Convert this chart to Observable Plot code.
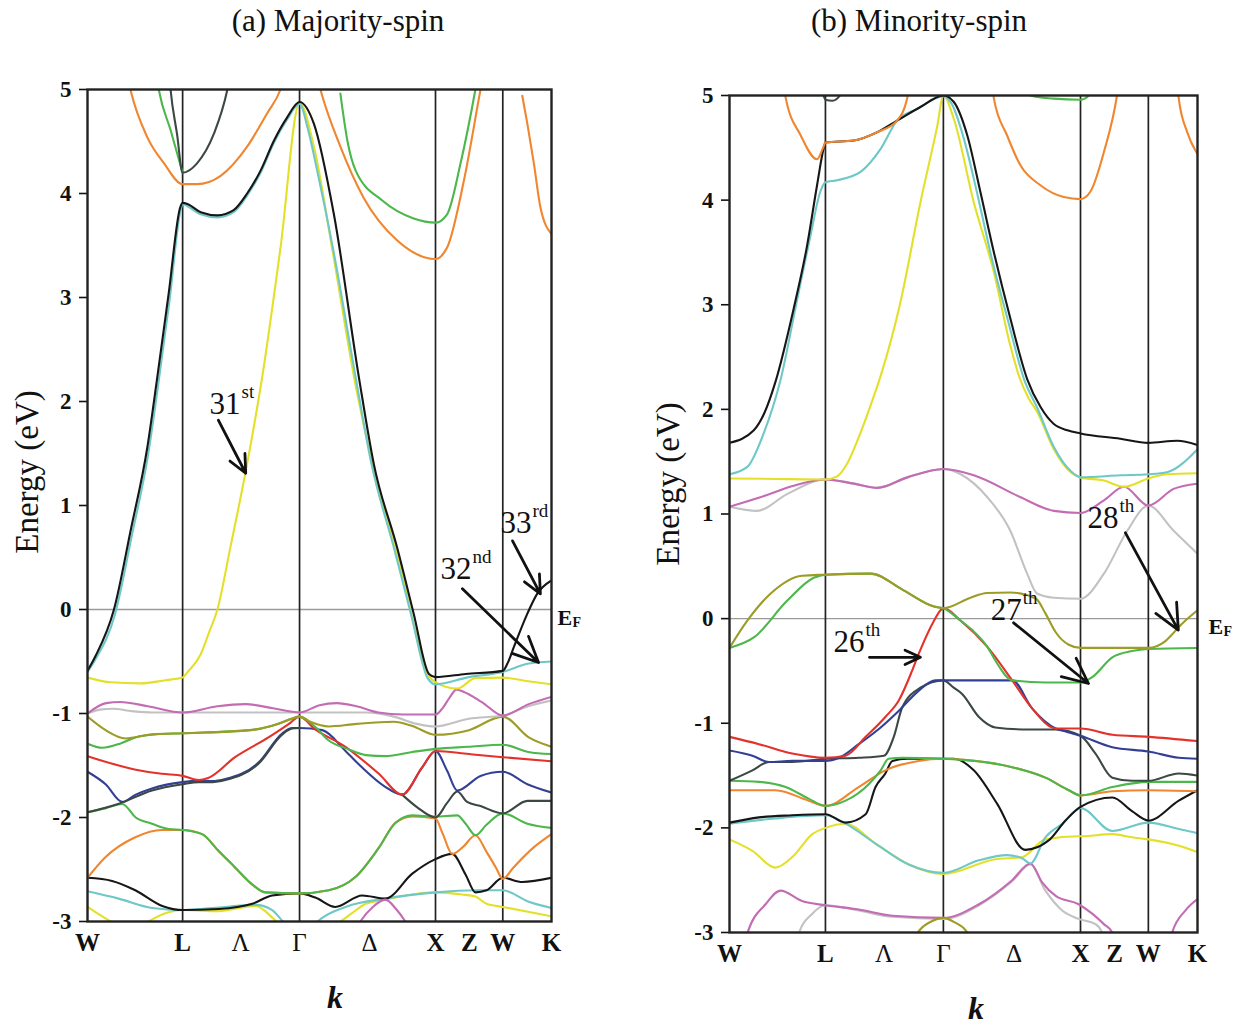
<!DOCTYPE html>
<html>
<head>
<meta charset="utf-8">
<script src="https://cdn.jsdelivr.net/npm/d3@7"></script>
<script src="https://cdn.jsdelivr.net/npm/@observablehq/plot@0.6"></script>
<style>
  body { margin: 0; background: #fff; }
  #wrap { position: relative; width: 1249px; height: 1028px; background: #fff; overflow: hidden; font-family: "Liberation Serif", "Times New Roman", serif; color: #111; }
  .abs { position: absolute; text-align: center; white-space: nowrap; pointer-events: none; }
  .title { font-size: 31px; line-height: 36px; width: 400px; top: 3px; }
  .ylab { font-size: 33px; line-height: 40px; width: 240px; height: 40px; transform: rotate(-90deg); transform-origin: center center; }
  .klab { font-size: 32px; line-height: 40px; width: 60px; font-weight: bold; font-style: italic; }
</style>
</head>
<body>
<div id="wrap">
  <div id="left" style="position:absolute;left:0;top:0"></div>
  <div id="right" style="position:absolute;left:620px;top:0"></div>
  <div class="abs title" style="left:138px">(a) Majority-spin</div>
  <div class="abs title" style="left:719px">(b) Minority-spin</div>
  <div class="abs ylab" style="left:-93px;top:452px">Energy (eV)</div>
  <div class="abs ylab" style="left:548px;top:464px">Energy (eV)</div>
  <div class="abs klab" style="left:305px;top:977px">k</div>
  <div class="abs klab" style="left:946px;top:988px">k</div>
</div>
<script>
// ---------- axes ----------
const kTicks = [0, 0.205, 0.33, 0.457, 0.608, 0.75, 0.823, 0.895, 1];
const kLabels = ["W", "L", "Λ", "Γ", "Δ", "X", "Z", "W", "K"];
const eTicks = [-3, -2, -1, 0, 1, 2, 3, 4, 5];
const symK = [0.205, 0.457, 0.75, 0.895];

const colors = {
  black: "#161616", dgrey: "#3c4844", cyan: "#6ec8c8", yellow: "#e4e02a",
  magenta: "#c36bb3", grey: "#c2c2c2", olive: "#9d9c26", green: "#4cb74a",
  red: "#e4322b", blue: "#333f95", orange: "#f0862f"
};

// ---------- (a) majority-spin bands : [k, E(eV)] ----------
const maj_orangeL = [[0.085,5.15],[0.093,4.99],[0.129,4.54],[0.165,4.29],[0.205,4.09],[0.236,4.09],[0.287,4.17],[0.344,4.45],[0.387,4.77],[0.416,5.0],[0.425,5.12]];
const maj_greenL = [[0.148,5.15],[0.154,4.99],[0.179,4.61],[0.205,4.20]];
const maj_dgreyL = [[0.176,5.15],[0.179,5.0],[0.193,4.57],[0.205,4.20],[0.236,4.29],[0.272,4.57],[0.301,4.99],[0.306,5.1]];
const maj_orangeX = [[0.495,5.12],[0.502,5.0],[0.545,4.45],[0.595,3.96],[0.667,3.55],[0.75,3.37],[0.775,3.48],[0.811,4.12],[0.847,5.0],[0.852,5.12]];
const maj_greenX = [[0.545,4.96],[0.56,4.51],[0.578,4.22],[0.636,3.93],[0.703,3.76],[0.75,3.72],[0.775,3.80],[0.804,4.29],[0.836,5.0],[0.84,5.1]];
const maj_orangeK = [[0.937,4.94],[0.948,4.67],[0.962,4.29],[0.976,3.87],[1,3.61]];

const maj_yellowLow = [[0,-2.86],[0.024,-2.93],[0.05,-3.0],[0.08,-3.08],[0.11,-3.07],[0.132,-3.0],[0.175,-2.91],[0.205,-2.89],[0.283,-2.90],[0.341,-2.86],[0.362,-2.85],[0.40,-2.97],[0.43,-3.10],[0.457,-3.15],[0.50,-3.1],[0.545,-3.0],[0.567,-2.93],[0.60,-2.83],[0.642,-2.79],[0.70,-2.74],[0.75,-2.72],[0.807,-2.74],[0.836,-2.76],[0.86,-2.83],[0.895,-2.86],[1,-2.95]];
const maj_cyanLow = [[0,-2.71],[0.067,-2.78],[0.139,-2.87],[0.205,-2.89],[0.27,-2.87],[0.362,-2.84],[0.398,-2.89],[0.419,-2.99],[0.44,-3.10],[0.457,-3.16],[0.475,-3.10],[0.496,-3.0],[0.556,-2.86],[0.642,-2.78],[0.75,-2.72],[0.836,-2.70],[0.895,-2.70],[0.951,-2.81],[1,-2.87]];
const maj_blackLow = [[0,-2.58],[0.053,-2.61],[0.103,-2.70],[0.161,-2.85],[0.205,-2.89],[0.283,-2.88],[0.355,-2.83],[0.398,-2.75],[0.457,-2.73],[0.491,-2.77],[0.534,-2.86],[0.592,-2.75],[0.642,-2.78],[0.70,-2.54],[0.75,-2.40],[0.786,-2.35],[0.815,-2.55],[0.836,-2.72],[0.86,-2.70],[0.895,-2.58],[0.937,-2.62],[1,-2.58]];
const maj_magentaLow = [[0.565,-3.2],[0.588,-3.0],[0.615,-2.86],[0.642,-2.79],[0.665,-2.88],[0.685,-3.0],[0.71,-3.2]];
const maj_orangeLow = [[0,-2.58],[0.039,-2.38],[0.103,-2.19],[0.16,-2.12],[0.205,-2.12],[0.247,-2.16],[0.282,-2.32],[0.318,-2.48],[0.354,-2.64],[0.383,-2.72],[0.457,-2.73],[0.52,-2.70],[0.578,-2.57],[0.628,-2.29],[0.664,-2.05],[0.70,-1.99],[0.75,-2.01],[0.765,-2.15],[0.786,-2.35],[0.81,-2.28],[0.836,-2.17],[0.86,-2.33],[0.88,-2.48],[0.895,-2.59],[0.918,-2.48],[0.961,-2.29],[1,-2.16]];
const maj_greenLow = [[0,-1.95],[0.04,-1.91],[0.075,-1.87],[0.104,-2.0],[0.139,-2.06],[0.175,-2.11],[0.205,-2.12],[0.247,-2.16],[0.282,-2.32],[0.318,-2.48],[0.354,-2.64],[0.383,-2.72],[0.457,-2.73],[0.52,-2.70],[0.578,-2.57],[0.628,-2.29],[0.664,-2.05],[0.70,-1.98],[0.75,-1.99],[0.797,-1.98],[0.815,-2.06],[0.836,-2.17],[0.86,-2.07],[0.895,-1.96],[0.948,-2.06],[1,-2.10]];
const maj_blue = [[0,-1.56],[0.039,-1.68],[0.075,-1.85],[0.104,-1.78],[0.139,-1.72],[0.205,-1.66],[0.24,-1.645],[0.269,-1.65],[0.297,-1.63],[0.369,-1.47],[0.42,-1.19],[0.441,-1.14],[0.457,-1.14],[0.506,-1.16],[0.556,-1.36],[0.592,-1.52],[0.64,-1.70],[0.678,-1.78],[0.721,-1.52],[0.75,-1.36],[0.775,-1.55],[0.797,-1.74],[0.847,-1.60],[0.895,-1.56],[0.948,-1.68],[1,-1.76]];
const maj_dgrey1 = [[0,-1.95],[0.066,-1.87],[0.139,-1.74],[0.205,-1.68],[0.24,-1.66],[0.269,-1.66],[0.297,-1.64],[0.369,-1.48],[0.42,-1.20],[0.441,-1.145],[0.457,-1.14]];
const maj_dgrey2 = [[0.678,-1.78],[0.71,-1.90],[0.75,-2.0],[0.775,-1.86],[0.797,-1.75],[0.818,-1.85],[0.847,-1.89],[0.895,-1.96],[0.948,-1.84],[1,-1.84]];
const maj_red = [[0,-1.41],[0.104,-1.54],[0.16,-1.58],[0.205,-1.60],[0.24,-1.64],[0.26,-1.62],[0.318,-1.42],[0.39,-1.23],[0.434,-1.10],[0.457,-1.03],[0.49,-1.15],[0.556,-1.32],[0.628,-1.58],[0.678,-1.78],[0.721,-1.52],[0.75,-1.36],[0.822,-1.39],[0.895,-1.42],[1,-1.46]];
const maj_greenUp = [[0,-1.29],[0.032,-1.33],[0.07,-1.29],[0.103,-1.23],[0.15,-1.20],[0.205,-1.19],[0.35,-1.16],[0.41,-1.10],[0.44,-1.05],[0.457,-1.03],[0.491,-1.13],[0.52,-1.26],[0.56,-1.34],[0.60,-1.40],[0.642,-1.41],[0.70,-1.37],[0.75,-1.34],[0.82,-1.32],[0.895,-1.30],[0.95,-1.37],[1,-1.39]];
const maj_olive = [[0,-1.03],[0.039,-1.16],[0.082,-1.24],[0.139,-1.20],[0.205,-1.19],[0.35,-1.16],[0.41,-1.10],[0.44,-1.05],[0.457,-1.03],[0.48,-1.08],[0.52,-1.125],[0.58,-1.10],[0.66,-1.08],[0.70,-1.12],[0.75,-1.205],[0.822,-1.16],[0.895,-1.03],[0.951,-1.23],[1,-1.32]];
const maj_grey = [[0,-1.0],[0.03,-0.96],[0.054,-0.955],[0.10,-0.98],[0.14,-0.99],[0.205,-0.99],[0.33,-0.99],[0.457,-0.99],[0.60,-0.99],[0.66,-1.03],[0.71,-1.10],[0.75,-1.125],[0.822,-1.05],[0.895,-1.02],[0.95,-0.93],[1,-0.875]];
const maj_magenta = [[0,-1.0],[0.04,-0.90],[0.07,-0.89],[0.13,-0.93],[0.205,-0.99],[0.28,-0.93],[0.34,-0.91],[0.40,-0.95],[0.457,-0.99],[0.50,-0.92],[0.537,-0.90],[0.58,-0.93],[0.627,-0.99],[0.68,-1.01],[0.75,-1.01],[0.765,-0.95],[0.78,-0.85],[0.795,-0.77],[0.81,-0.79],[0.85,-0.89],[0.895,-1.02],[0.951,-0.91],[1,-0.84]];
const maj_yellow31 = [[0,-0.655],[0.05,-0.70],[0.114,-0.71],[0.168,-0.68],[0.205,-0.655],[0.216,-0.60],[0.244,-0.43],[0.262,-0.22],[0.280,0.0],[0.308,0.60],[0.341,1.33],[0.377,2.25],[0.416,3.48],[0.457,4.87],[0.488,4.45],[0.53,3.40],[0.578,2.15],[0.617,1.34],[0.675,0.41],[0.703,-0.14],[0.733,-0.62],[0.75,-0.70],[0.797,-0.76],[0.836,-0.66],[0.895,-0.655],[0.95,-0.69],[1,-0.72]];
const maj_cyan32 = [[0,-0.60],[0.017,-0.48],[0.059,-0.05],[0.095,0.70],[0.131,1.50],[0.152,2.15],[0.177,2.98],[0.201,3.85],[0.205,3.90],[0.215,3.88],[0.244,3.80],[0.280,3.77],[0.315,3.82],[0.344,3.98],[0.373,4.20],[0.402,4.49],[0.430,4.71],[0.457,4.86],[0.475,4.62],[0.495,4.22],[0.530,3.45],[0.578,2.23],[0.612,1.40],[0.660,0.6],[0.697,-0.04],[0.733,-0.66],[0.75,-0.72],[0.822,-0.65],[0.895,-0.60],[0.951,-0.52],[1,-0.50]];
const maj_black33 = [[0,-0.59],[0.017,-0.45],[0.057,0.0],[0.093,0.76],[0.129,1.56],[0.150,2.22],[0.175,3.04],[0.200,3.87],[0.205,3.91],[0.215,3.90],[0.244,3.82],[0.280,3.79],[0.315,3.84],[0.344,4.0],[0.373,4.22],[0.402,4.51],[0.430,4.73],[0.457,4.88],[0.488,4.67],[0.531,3.80],[0.585,2.23],[0.617,1.40],[0.667,0.6],[0.703,-0.04],[0.736,-0.62],[0.75,-0.65],[0.815,-0.62],[0.895,-0.59],[0.905,-0.52],[0.919,-0.36],[0.948,-0.04],[0.969,0.15],[1,0.28]];

// ---------- (b) minority-spin bands : [k, E(eV)] ----------
const min_dgreyL = [[0.198,5.05],[0.205,4.96],[0.22,4.95],[0.236,5.0],[0.242,5.06]];
const min_greenX = [[0.636,5.05],[0.643,5.0],[0.693,4.97],[0.75,4.96],[0.768,5.0],[0.772,5.05]];
const min_orangeX = [[0.562,5.12],[0.565,4.97],[0.593,4.62],[0.622,4.33],[0.665,4.14],[0.714,4.03],[0.75,4.01],[0.771,4.08],[0.80,4.46],[0.828,5.0],[0.832,5.12]];
const min_orangeK = [[0.957,5.12],[0.960,4.97],[0.978,4.65],[1,4.44]];
const min_greyLow = [[0.14,-3.15],[0.148,-3.01],[0.177,-2.82],[0.205,-2.74],[0.276,-2.79],[0.348,-2.85],[0.457,-2.87],[0.533,-2.74],[0.604,-2.51],[0.643,-2.35],[0.675,-2.60],[0.711,-2.79],[0.746,-2.87],[0.782,-2.92],[0.796,-3.0],[0.80,-3.15]];
const min_magentaLow = [[0.03,-3.15],[0.038,-3.01],[0.077,-2.73],[0.109,-2.60],[0.155,-2.70],[0.205,-2.74],[0.276,-2.78],[0.348,-2.84],[0.457,-2.86],[0.533,-2.73],[0.604,-2.50],[0.643,-2.34],[0.668,-2.52],[0.697,-2.65],[0.746,-2.73],[0.775,-2.82],[0.80,-2.92],[0.818,-3.0],[0.83,-3.15]];
const min_magentaK = [[0.94,-3.15],[0.946,-3.0],[0.974,-2.79],[1,-2.68]];
const min_oliveLow = [[0.395,-3.15],[0.401,-3.01],[0.433,-2.89],[0.457,-2.86],[0.48,-2.9],[0.508,-3.0],[0.515,-3.15]];
const min_yellowLow = [[0,-2.11],[0.049,-2.22],[0.098,-2.38],[0.134,-2.28],[0.177,-2.06],[0.205,-2.0],[0.248,-1.96],[0.312,-2.15],[0.383,-2.35],[0.457,-2.44],[0.568,-2.30],[0.625,-2.28],[0.675,-2.11],[0.746,-2.08],[0.75,-2.08],[0.818,-2.06],[0.860,-2.09],[0.895,-2.11],[0.960,-2.17],[1,-2.23]];
const min_cyanLow = [[0,-1.96],[0.098,-1.91],[0.205,-1.88],[0.248,-1.96],[0.312,-2.15],[0.383,-2.35],[0.457,-2.43],[0.533,-2.31],[0.593,-2.26],[0.625,-2.29],[0.643,-2.34],[0.675,-2.09],[0.711,-1.96],[0.75,-1.81],[0.818,-2.03],[0.895,-1.95],[0.960,-2.01],[1,-2.05]];
const min_blackLow = [[0,-1.95],[0.063,-1.90],[0.134,-1.88],[0.205,-1.87],[0.248,-1.95],[0.291,-1.87],[0.312,-1.61],[0.333,-1.48],[0.348,-1.36],[0.38,-1.34],[0.457,-1.34],[0.479,-1.34],[0.522,-1.45],[0.572,-1.77],[0.632,-2.21],[0.682,-2.12],[0.718,-1.93],[0.75,-1.80],[0.818,-1.71],[0.860,-1.84],[0.895,-1.93],[0.960,-1.74],[1,-1.64]];
const min_orangeLow = [[0,-1.64],[0.098,-1.64],[0.169,-1.74],[0.205,-1.79],[0.276,-1.61],[0.333,-1.45],[0.404,-1.36],[0.457,-1.34],[0.50,-1.35],[0.604,-1.42],[0.675,-1.52],[0.725,-1.64],[0.75,-1.69],[0.818,-1.65],[0.895,-1.64],[1,-1.65]];
const min_greenLow = [[0,-1.55],[0.063,-1.56],[0.120,-1.61],[0.169,-1.72],[0.205,-1.79],[0.248,-1.74],[0.298,-1.58],[0.323,-1.45],[0.340,-1.34],[0.37,-1.33],[0.457,-1.34],[0.50,-1.35],[0.604,-1.42],[0.675,-1.52],[0.725,-1.64],[0.75,-1.69],[0.818,-1.61],[0.895,-1.56],[1,-1.56]];
const min_dgrey = [[0,-1.55],[0.049,-1.45],[0.084,-1.37],[0.134,-1.37],[0.205,-1.34],[0.276,-1.33],[0.330,-1.31],[0.351,-1.13],[0.369,-0.85],[0.408,-0.66],[0.457,-0.59],[0.479,-0.66],[0.497,-0.72],[0.533,-0.94],[0.568,-1.04],[0.640,-1.06],[0.697,-1.06],[0.75,-1.12],[0.782,-1.29],[0.818,-1.52],[0.860,-1.55],[0.895,-1.55],[0.960,-1.48],[1,-1.50]];
const min_blue = [[0,-1.26],[0.049,-1.31],[0.084,-1.37],[0.134,-1.36],[0.205,-1.36],[0.234,-1.33],[0.276,-1.20],[0.323,-1.04],[0.362,-0.88],[0.404,-0.69],[0.440,-0.59],[0.457,-0.59],[0.53,-0.59],[0.604,-0.59],[0.647,-0.86],[0.697,-1.05],[0.72,-1.08],[0.75,-1.12],[0.818,-1.23],[0.895,-1.27],[0.96,-1.33],[1,-1.34]];
const min_red = [[0,-1.13],[0.063,-1.20],[0.134,-1.29],[0.205,-1.33],[0.248,-1.31],[0.291,-1.13],[0.333,-0.94],[0.362,-0.78],[0.390,-0.50],[0.404,-0.34],[0.437,-0.02],[0.451,0.08],[0.457,0.10],[0.494,-0.02],[0.551,-0.27],[0.604,-0.59],[0.647,-0.86],[0.697,-1.05],[0.75,-1.05],[0.818,-1.11],[0.895,-1.13],[1,-1.17]];
const min_greenMid = [[0,-0.28],[0.052,-0.18],[0.123,0.17],[0.180,0.39],[0.205,0.42],[0.301,0.43],[0.372,0.27],[0.437,0.115],[0.457,0.10],[0.494,-0.02],[0.519,-0.11],[0.551,-0.27],[0.568,-0.40],[0.604,-0.59],[0.675,-0.61],[0.75,-0.61],[0.775,-0.56],[0.818,-0.37],[0.86,-0.31],[0.895,-0.29],[1,-0.28]];
const min_olive = [[0,-0.28],[0.038,-0.02],[0.088,0.24],[0.155,0.41],[0.205,0.42],[0.301,0.43],[0.372,0.27],[0.437,0.115],[0.457,0.10],[0.515,0.20],[0.55,0.245],[0.60,0.25],[0.655,0.19],[0.675,0.05],[0.697,-0.13],[0.725,-0.25],[0.75,-0.28],[0.82,-0.28],[0.895,-0.28],[0.93,-0.22],[0.946,-0.15],[0.96,-0.08],[1,0.08]];
const min_grey = [[0,1.07],[0.059,1.03],[0.123,1.19],[0.205,1.33],[0.266,1.29],[0.316,1.25],[0.380,1.35],[0.457,1.43],[0.494,1.38],[0.551,1.16],[0.600,0.84],[0.636,0.43],[0.657,0.24],[0.693,0.20],[0.75,0.19],[0.80,0.43],[0.85,0.84],[0.895,1.08],[0.949,0.84],[1,0.62]];
const min_magenta = [[0,1.07],[0.066,1.16],[0.137,1.27],[0.205,1.33],[0.266,1.29],[0.316,1.25],[0.380,1.35],[0.457,1.43],[0.522,1.37],[0.622,1.16],[0.693,1.03],[0.75,1.01],[0.80,1.13],[0.843,1.26],[0.895,1.08],[0.949,1.24],[1,1.29]];
const min_yellow = [[0,1.34],[0.10,1.335],[0.205,1.33],[0.23,1.36],[0.25,1.47],[0.275,1.72],[0.30,2.02],[0.323,2.32],[0.365,3.02],[0.408,3.98],[0.444,4.71],[0.457,5.0],[0.479,4.78],[0.522,3.98],[0.565,3.31],[0.600,2.61],[0.62,2.30],[0.64,2.10],[0.657,1.98],[0.693,1.62],[0.729,1.40],[0.75,1.35],[0.80,1.32],[0.843,1.26],[0.895,1.34],[0.935,1.38],[1,1.39]];
const min_cyan = [[0,1.38],[0.038,1.45],[0.073,1.77],[0.109,2.28],[0.145,3.06],[0.173,3.66],[0.194,4.08],[0.205,4.17],[0.230,4.19],[0.280,4.27],[0.323,4.49],[0.358,4.76],[0.40,4.87],[0.457,4.99],[0.475,4.92],[0.50,4.60],[0.53,4.05],[0.56,3.45],[0.595,2.85],[0.63,2.28],[0.657,2.02],[0.693,1.64],[0.729,1.41],[0.75,1.35],[0.835,1.37],[0.895,1.38],[0.935,1.40],[1,1.62]];
const min_black = [[0,1.68],[0.052,1.80],[0.075,1.97],[0.098,2.26],[0.137,2.96],[0.166,3.57],[0.187,4.14],[0.201,4.49],[0.205,4.55],[0.266,4.57],[0.316,4.65],[0.358,4.76],[0.408,4.89],[0.457,5.0],[0.479,4.94],[0.508,4.62],[0.536,4.08],[0.565,3.50],[0.600,2.87],[0.636,2.29],[0.665,2.02],[0.693,1.86],[0.722,1.80],[0.75,1.77],[0.835,1.72],[0.895,1.68],[0.957,1.70],[1,1.66]];
const min_orangeL = [[0.115,5.12],[0.120,4.98],[0.152,4.62],[0.187,4.39],[0.200,4.50],[0.205,4.55],[0.266,4.57],[0.316,4.65],[0.358,4.76],[0.380,4.98],[0.385,5.12]];

// ---------- annotations ----------
const majNotes = [
  {num: "31", sup: "st", k: 0.263, E: 1.98},
  {num: "32", sup: "nd", k: 0.761, E: 0.39},
  {num: "33", sup: "rd", k: 0.890, E: 0.83}
];
const majArrows = [
  {k1: 0.282, E1: 1.82, k2: 0.341, E2: 1.31},
  {k1: 0.808, E1: 0.20, k2: 0.972, E2: -0.51},
  {k1: 0.916, E1: 0.66, k2: 0.976, E2: 0.15}
];
const minNotes = [
  {num: "26", sup: "th", k: 0.222, E: -0.22},
  {num: "27", sup: "th", k: 0.558, E: 0.08},
  {num: "28", sup: "th", k: 0.765, E: 0.96}
];
const minArrows = [
  {k1: 0.299, E1: -0.37, k2: 0.408, E2: -0.37},
  {k1: 0.607, E1: -0.04, k2: 0.767, E2: -0.62},
  {k1: 0.846, E1: 0.82, k2: 0.959, E2: -0.11}
];
const fermi = [{k: 1, E: 0}];

// ---------- draw order ----------
const majBands = [
  ["orange", maj_orangeL], ["green", maj_greenL], ["dgrey", maj_dgreyL],
  ["orange", maj_orangeX], ["green", maj_greenX], ["orange", maj_orangeK],
  ["yellow", maj_yellowLow], ["cyan", maj_cyanLow], ["black", maj_blackLow], ["magenta", maj_magentaLow],
  ["orange", maj_orangeLow], ["green", maj_greenLow],
  ["blue", maj_blue], ["dgrey", maj_dgrey1], ["dgrey", maj_dgrey2], ["red", maj_red],
  ["green", maj_greenUp], ["olive", maj_olive], ["grey", maj_grey], ["magenta", maj_magenta],
  ["yellow", maj_yellow31], ["cyan", maj_cyan32], ["black", maj_black33]
];
const minBands = [
  ["dgrey", min_dgreyL], ["green", min_greenX], ["orange", min_orangeX], ["orange", min_orangeK],
  ["grey", min_greyLow], ["magenta", min_magentaLow], ["magenta", min_magentaK], ["olive", min_oliveLow],
  ["yellow", min_yellowLow], ["cyan", min_cyanLow],
  ["black", min_blackLow], ["orange", min_orangeLow], ["green", min_greenLow],
  ["dgrey", min_dgrey], ["blue", min_blue], ["red", min_red], ["green", min_greenMid], ["olive", min_olive],
  ["grey", min_grey], ["magenta", min_magenta], ["yellow", min_yellow], ["cyan", min_cyan], ["black", min_black],
  ["orange", min_orangeL]
];

function panel(bands, notes, arrows, o) {
  const kMap = new Map(kTicks.map((k, i) => [k, kLabels[i]]));
  const svg = Plot.plot({
    width: o.width, height: 1028,
    marginLeft: o.ml, marginRight: o.mr, marginTop: o.mt, marginBottom: o.mb,
    style: {fontFamily: "'Liberation Serif', 'Times New Roman', serif", background: "white", color: "#111", overflow: "visible"},
    x: {domain: [0, 1], ticks: kTicks, tickFormat: d => kMap.get(d), tickSize: 0, tickPadding: 12, label: null},
    y: {domain: [-3, 5], ticks: eTicks, tickFormat: d => String(d), tickSize: 8, tickPadding: 8, label: null},
    marks: [
      Plot.ruleY([0], {stroke: "#9a9a9a", strokeWidth: 1.3}),
      Plot.ruleX(symK, {stroke: "#222", strokeWidth: 1.7}),
      ...bands.map(([c, pts]) => Plot.line(pts, {x: d => d[0], y: d => d[1], stroke: colors[c], strokeWidth: 2.1, curve: "monotone-x", clip: true})),
      Plot.frame({stroke: "#222", strokeWidth: 2.4}),
      Plot.arrow(arrows, {x1: "k1", y1: "E1", x2: "k2", y2: "E2", stroke: "#111", strokeWidth: 2.8, headLength: 15, headAngle: 50}),
      Plot.text(notes, {x: "k", y: "E", text: "num", textAnchor: "start", lineAnchor: "middle", fontSize: 31, fontWeight: "normal"}),
      Plot.text(notes, {x: "k", y: "E", text: "sup", textAnchor: "start", lineAnchor: "middle", fontSize: 19, fontWeight: "normal", dx: 32, dy: -12}),
      Plot.text(fermi, {x: "k", y: "E", text: () => "E", textAnchor: "start", lineAnchor: "middle", fontSize: 22, fontWeight: "bold", dx: o.efdx, dy: 8}),
      Plot.text(fermi, {x: "k", y: "E", text: () => "F", textAnchor: "start", lineAnchor: "middle", fontSize: 14, fontWeight: "bold", dx: o.efdx + 15, dy: 13})
    ]
  });
  svg.querySelectorAll('[aria-label^="x-axis"] text').forEach(t => {
    t.style.fontSize = "25px";
    t.style.fontWeight = /[ΛΓΔ]/.test(t.textContent) ? "normal" : "bold";
    t.style.fontFamily = "'Liberation Serif', serif";
  });
  svg.querySelectorAll('[aria-label^="y-axis"] text').forEach(t => {
    t.style.fontSize = "23px";
    t.style.fontWeight = "bold";
    t.style.fontFamily = "'Liberation Serif', serif";
  });
  svg.querySelectorAll('[aria-label^="y-axis"] line, [aria-label^="y-axis"] path').forEach(l => { l.style.strokeWidth = "1.6"; });
  return svg;
}

document.getElementById("left").appendChild(panel(majBands, majNotes, majArrows, {width: 620, ml: 87, mr: 69, mt: 89, mb: 107, efdx: 6}));
document.getElementById("right").appendChild(panel(minBands, minNotes, minArrows, {width: 629, ml: 109, mr: 52, mt: 95, mb: 96, efdx: 11}));
</script>
</body>
</html>
